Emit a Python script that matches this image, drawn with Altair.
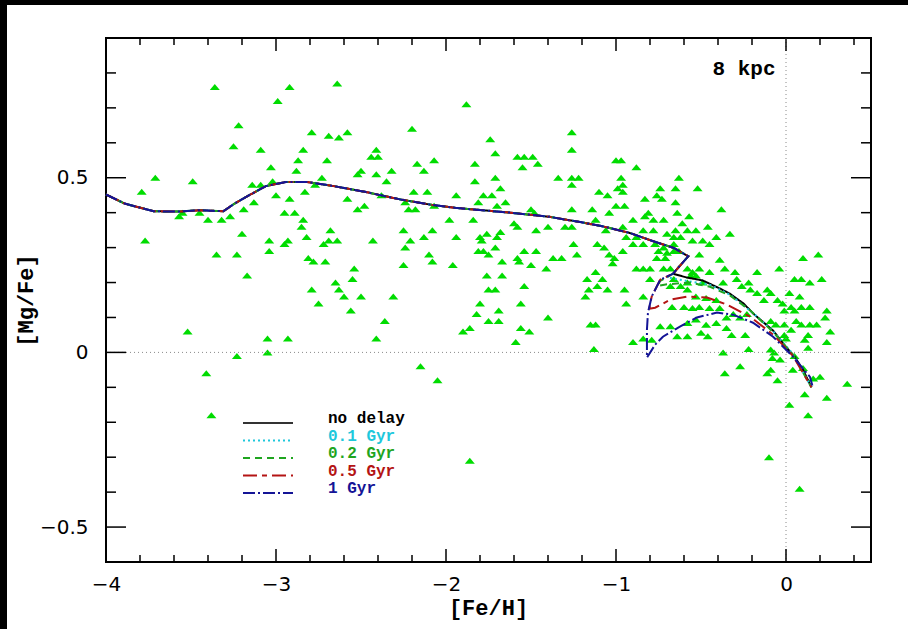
import altair as alt
import pandas as pd

# ---------------- observed stars ([Fe/H], [Mg/Fe]) ----------------
feh = [
    -3.36, -2.92, -2.64, -2.99, -3.22, -2.20, -2.79, -2.69, -2.63, -2.58, -3.25, -3.09, -2.84, -2.41, -2.44, -2.40,
    -2.87, -2.70, -2.07, -2.17, -3.03, -2.88, -2.50, -2.32, -2.13, -2.52, -2.41, -3.71, -3.49, -2.73, -2.35, -3.02,
    -3.14, -3.09, -2.77, -3.79, -2.83, -2.19, -2.11, -1.94, -3.00, -2.92, -2.58, -2.38, -3.13, -2.24, -2.52, -2.48,
    -2.22, -2.18, -2.07, -3.19, -3.57, -3.55, -3.45, -3.40, -3.32, -3.27, -2.95, -2.89, -2.84, -1.98, -2.85, -2.68,
    -2.25, -2.08, -3.20, -3.77, -3.04, -2.93, -2.95, -2.82, -2.69, -2.64, -2.72, -2.43, -2.21, -2.13, -2.24, -1.94,
    -3.04, -3.35, -3.23, -2.81, -2.78, -2.71, -2.10, -2.08, -2.25, -1.96, -2.54, -3.17, -2.55, -2.65, -2.63, -2.79,
    -2.60, -2.50, -2.31, -2.75, -2.56, -2.36, -3.52, -3.05, -2.93, -2.41, -3.23, -3.05, -3.41, -2.15, -2.05, -3.38,
    -1.88,
    -1.26, -1.74, -1.26, -1.71, -1.58, -1.54, -1.49, -1.55, -1.46, -1.83, -1.00, -1.83, -1.71, -1.34, -1.26, -1.22,
    -1.26, -0.99, -1.68, -1.78, -1.73, -1.10, -1.05, -1.65, -1.81, -1.70, -1.50, -1.48, -1.26, -1.14, -1.00, -1.04,
    -1.84, -1.60, -1.58, -1.40, -1.47, -1.30, -1.26, -1.12, -1.06, -1.80, -1.76, -1.70, -1.68, -1.79, -1.25, -1.11,
    -1.07, -1.81, -1.78, -1.71, -1.75, -1.54, -1.47, -1.37, -1.32, -1.23, -1.04, -1.01, -1.02, -1.67, -1.58, -1.57,
    -1.50, -1.41, -1.12, -1.76, -1.67, -1.17, -1.08, -1.75, -1.71, -1.54, -1.16, -1.11, -1.05, -1.18, -1.80, -1.56,
    -1.82, -1.69, -1.75, -1.69, -1.40, -1.15, -1.12, -1.56,
    -0.97, -0.97, -0.96, -0.96, -0.95, -0.96, -0.94, -0.96, -0.95, -0.94,
    -1.86, -1.90, -1.51, -1.59, -1.13, -1.86,
    -0.88, -0.63, -0.74, -0.65, -0.52, -0.83, -0.76, -0.73, -0.65, -0.81, -0.64, -0.57, -0.90, -0.83, -0.78, -0.72,
    -0.61, -0.84, -0.78, -0.70, -0.65, -0.58, -0.53, -0.46, -0.88, -0.66, -0.62, -0.55, -0.49, -0.41, -0.38, -0.33,
    -0.90, -0.84, -0.77, -0.72, -0.66, -0.45, -0.75, -0.70, -0.66, -0.63, -0.51, -0.39, -0.76, -0.71, -0.88, -0.84,
    -0.80, -0.72, -0.68, -0.58, -0.55, -0.51, -0.56, -0.45, -0.80, -0.66, -0.53, -0.58, -0.49, -0.68, -0.62, -0.58,
    -0.84, -0.53, -0.47, -0.41, -0.67, -0.60, -0.55, -0.51, -0.45, -0.39, -0.74, -0.68, -0.58, -0.53, -0.47, -0.41,
    -0.90, -0.84, -0.79, -0.64, -0.58, -0.50, -0.46,
    0.10, 0.19, -0.04, -0.17, -0.30, -0.36, 0.05, 0.09, 0.14, 0.21, -0.29, -0.37, -0.26, -0.22, -0.21, -0.11,
    -0.09, -0.17, 0.02, 0.08, -0.05, -0.02, -0.13, 0.03, -0.01, 0.05, 0.09, 0.14, 0.24, -0.35, -0.31, -0.27,
    -0.23, 0.23, -0.09, -0.06, -0.01, 0.06, 0.09, 0.14, 0.18, -0.35, -0.32, -0.24, 0.03, -0.01, 0.13, 0.26,
    0.00, 0.11, 0.24, 0.13, -0.22, -0.09, -0.07, -0.37, -0.08, -0.035, 0.05, -0.27, -0.36, -0.11, -0.09, -0.05,
    0.04, 0.10, 0.20, 0.16, 0.36, 0.11, 0.24, 0.02, 0.13, -0.10, 0.08,
]
mgfe = [
    0.76, 0.76, 0.77, 0.72, 0.65, 0.64, 0.63, 0.62, 0.615, 0.63, 0.59, 0.58, 0.58, 0.58, 0.56, 0.56,
    0.55, 0.55, 0.55, 0.54, 0.53, 0.52, 0.52, 0.52, 0.52, 0.51, 0.51, 0.50, 0.49, 0.50, 0.49, 0.49,
    0.48, 0.48, 0.48, 0.46, 0.46, 0.46, 0.46, 0.45, 0.45, 0.44, 0.44, 0.45, 0.43, 0.43, 0.41, 0.42,
    0.41, 0.41, 0.42, 0.41, 0.39, 0.40, 0.40, 0.38, 0.38, 0.39, 0.40, 0.40, 0.38, 0.38, 0.36, 0.35,
    0.35, 0.35, 0.34, 0.32, 0.32, 0.32, 0.31, 0.33, 0.32, 0.32, 0.31, 0.32, 0.32, 0.33, 0.30, 0.33,
    0.29, 0.28, 0.28, 0.27, 0.26, 0.26, 0.28, 0.26, 0.25, 0.25, 0.24, 0.22, 0.21, 0.20, 0.18, 0.18,
    0.16, 0.16, 0.16, 0.14, 0.12, 0.09, 0.06, 0.04, 0.04, 0.04, -0.01, 0.00, -0.06, -0.04, -0.08, -0.18,
    0.71,
    0.63, 0.61, 0.58, 0.57, 0.56, 0.56, 0.56, 0.53, 0.54, 0.54, 0.55, 0.49, 0.50, 0.50, 0.50, 0.50,
    0.48, 0.47, 0.47, 0.45, 0.45, 0.46, 0.45, 0.43, 0.43, 0.42, 0.41, 0.40, 0.41, 0.41, 0.42, 0.40,
    0.38, 0.37, 0.36, 0.36, 0.35, 0.36, 0.36, 0.38, 0.35, 0.33, 0.34, 0.33, 0.345, 0.32, 0.31, 0.31,
    0.30, 0.29, 0.29, 0.30, 0.28, 0.29, 0.29, 0.27, 0.27, 0.28, 0.28, 0.27, 0.255, 0.26, 0.27, 0.26,
    0.25, 0.24, 0.23, 0.22, 0.22, 0.21, 0.21, 0.18, 0.18, 0.19, 0.18, 0.19, 0.18, 0.16, 0.14, 0.14,
    0.11, 0.12, 0.09, 0.09, 0.10, 0.08, 0.08, 0.07,
    0.55, 0.50, 0.48, 0.46, 0.42, 0.36, 0.33, 0.29, 0.18, 0.14,
    0.07, 0.06, 0.06, 0.03, 0.01, -0.31,
    0.53, 0.50, 0.47, 0.47, 0.47, 0.44, 0.45, 0.44, 0.43, 0.40, 0.40, 0.39, 0.38, 0.39, 0.38, 0.38,
    0.37, 0.35, 0.35, 0.34, 0.35, 0.35, 0.35, 0.36, 0.33, 0.33, 0.33, 0.32, 0.32, 0.33, 0.41, 0.34,
    0.31, 0.31, 0.31, 0.30, 0.31, 0.31, 0.29, 0.285, 0.29, 0.29, 0.28, 0.265, 0.27, 0.27, 0.24, 0.24,
    0.24, 0.24, 0.24, 0.24, 0.23, 0.24, 0.22, 0.23, 0.21, 0.21, 0.22, 0.20, 0.20, 0.19, 0.19, 0.18,
    0.16, 0.16, 0.156, 0.15, 0.13, 0.13, 0.127, 0.13, 0.127, 0.127, 0.075, 0.075, 0.084, 0.094, 0.079, 0.084,
    0.03, 0.04, 0.036, 0.046, 0.046, 0.056, 0.046,
    0.27, 0.28, 0.24, 0.23, 0.23, 0.24, 0.21, 0.21, 0.20, 0.21, 0.21, 0.20, 0.19, 0.20, 0.18, 0.18,
    0.17, 0.17, 0.17, 0.16, 0.15, 0.14, 0.15, 0.13, 0.12, 0.12, 0.13, 0.13, 0.12, 0.10, 0.11, 0.10,
    0.11, 0.10, 0.09, 0.08, 0.08, 0.09, 0.08, 0.08, 0.08, 0.07, 0.05, 0.05, 0.065, 0.05, 0.05, 0.06,
    0.04, 0.036, 0.03, 0.013, 0.01, 0.008, 0.0, 0.0, -0.016, -0.02, -0.01, -0.04, -0.06, -0.06, -0.05, -0.08,
    -0.05, -0.045, -0.07, -0.075, -0.09, -0.12, -0.13, -0.15, -0.18, -0.30, -0.39,
]

# ---------------- model tracks ----------------
common_feh = [-4.0, -3.89, -3.72, -3.57, -3.45, -3.31, -3.25, -3.15, -3.06, -2.94, -2.82, -2.66, -2.47,
              -2.27, -2.08, -1.95, -1.62, -1.39, -1.21, -1.08, -0.92, -0.78, -0.66, -0.575, -0.665]
common_mgfe = [0.452, 0.426, 0.404, 0.403, 0.407, 0.404, 0.424, 0.452, 0.476, 0.488, 0.488, 0.476, 0.459,
               0.438, 0.422, 0.414, 0.400, 0.388, 0.373, 0.361, 0.342, 0.318, 0.299, 0.275, 0.225]

tail_feh = {
    "no delay": [-0.58, -0.49, -0.39, -0.33, -0.25, -0.19, -0.075, 0.0, 0.05, 0.10, 0.15],
    "0.1 Gyr": [-0.70, -0.60, -0.45, -0.33, -0.20, -0.075, 0.04, 0.15],
    "0.2 Gyr": [-0.74, -0.755, -0.70, -0.565, -0.447, -0.33, -0.21, -0.075, 0.04, 0.15],
    "0.5 Gyr": [-0.74, -0.79, -0.805, -0.77, -0.68, -0.58, -0.465, -0.347, -0.21, -0.076, 0.041, 0.15],
    "1 Gyr": [-0.74, -0.79, -0.812, -0.818, -0.818, -0.77, -0.724, -0.624, -0.524, -0.406, -0.312,
              -0.194, -0.076, 0.041, 0.141, 0.155],
}
tail_mgfe = {
    "no delay": [0.214, 0.206, 0.183, 0.168, 0.140, 0.110, 0.062, 0.015, -0.012, -0.050, -0.100],
    "0.1 Gyr": [0.215, 0.206, 0.194, 0.165, 0.115, 0.060, -0.004, -0.100],
    "0.2 Gyr": [0.205, 0.190, 0.195, 0.200, 0.188, 0.163, 0.120, 0.058, -0.006, -0.100],
    "0.5 Gyr": [0.208, 0.160, 0.125, 0.128, 0.151, 0.160, 0.157, 0.137, 0.102, 0.051, -0.010, -0.100],
    "1 Gyr": [0.208, 0.160, 0.114, 0.065, -0.015, 0.022, 0.045, 0.074, 0.100, 0.114, 0.108,
              0.085, 0.045, -0.012, -0.070, -0.095],
}

series_names = ["no delay", "0.1 Gyr", "0.2 Gyr", "0.5 Gyr", "1 Gyr"]
series_colors = ["#000000", "#1ec8dc", "#1fa51f", "#b41414", "#141496"]
series_dash = [[1, 0], [2, 3], [7, 5], [14, 5, 5, 5], [12, 3, 2, 3]]

x_major = [-4, -3, -2, -1, 0]
x_minor = [-3.8, -3.6, -3.4, -3.2, -2.8, -2.6, -2.4, -2.2, -1.8, -1.6, -1.4, -1.2,
           -0.8, -0.6, -0.4, -0.2, 0.2, 0.4]
y_major = [-0.5, 0, 0.5]
y_minor = [-0.4, -0.3, -0.2, -0.1, 0.1, 0.2, 0.3, 0.4, 0.6, 0.7, 0.8]

W, H = 765, 524
xs = alt.Scale(domain=[-4, 0.5], nice=False, zero=False)
ys = alt.Scale(domain=[-0.6, 0.9], nice=False, zero=False)
one = pd.DataFrame({"k": [0]})

ax_x = alt.Axis(
    values=x_major, format="d", ticks=False, domain=False, grid=False, labelFlush=False,
    labelFont="DejaVu Sans", labelFontSize=20, labelColor="black", labelPadding=12,
    title="[Fe/H]", titleFont="Liberation Mono", titleFontWeight="bold", titleFontSize=22,
    titleColor="black", titleX=382, titleY=52, titleAlign="center", titleBaseline="alphabetic")
ax_y = alt.Axis(
    values=y_major, format=".1~f", ticks=False, domain=False, grid=False, labelFlush=False,
    labelFont="DejaVu Sans", labelFontSize=20, labelColor="black", labelPadding=18,
    title="[Mg/Fe]", titleFont="Liberation Mono", titleFontWeight="bold", titleFontSize=22,
    titleColor="black", titleX=-81, titleY=262, titleAngle=270, titleAlign="center",
    titleBaseline="middle")


def X(field):
    return alt.X(field, scale=xs, axis=ax_x)


def Y(field):
    return alt.Y(field, scale=ys, axis=ax_y)


layers = []

# stars
stars = pd.DataFrame({"feh": feh, "mgfe": mgfe})
layers.append(alt.Chart(stars).mark_point(
    shape="M-1,0.6L1,0.6L0,-0.6Z", filled=True, size=100, color="#00dc00", opacity=1, strokeWidth=0
).encode(x=X("feh:Q"), y=Y("mgfe:Q")))

# dotted reference lines
layers.append(alt.Chart(pd.DataFrame({"feh": [0.0]})).mark_rule(
    color="#8a8a8a", strokeDash=[1, 3], strokeWidth=1).encode(x=X("feh:Q")))
layers.append(alt.Chart(pd.DataFrame({"mgfe": [0.0]})).mark_rule(
    color="#8a8a8a", strokeDash=[1, 3], strokeWidth=1).encode(y=Y("mgfe:Q")))

# model tracks
for name, col, dash in zip(series_names, series_colors, series_dash):
    fx = common_feh + tail_feh[name]
    fy = common_mgfe + tail_mgfe[name]
    df = pd.DataFrame({"feh": fx, "mgfe": fy, "i": list(range(len(fx)))})
    layers.append(alt.Chart(df).mark_line(color=col, strokeDash=dash, strokeWidth=2).encode(
        x=X("feh:Q"), y=Y("mgfe:Q"), order=alt.Order("i:Q")))


# inward ticks on all four sides
def x_ticks(vals, L):
    d = pd.DataFrame({"feh": vals})
    b = alt.Chart(d).mark_rule(color="black", strokeWidth=1.5).encode(
        x=X("feh:Q"), y=alt.value(H), y2=alt.value(H - L))
    t = alt.Chart(d).mark_rule(color="black", strokeWidth=1.5).encode(
        x=X("feh:Q"), y=alt.value(0), y2=alt.value(L))
    return [b, t]


def y_ticks(vals, L):
    d = pd.DataFrame({"mgfe": vals})
    l = alt.Chart(d).mark_rule(color="black", strokeWidth=1.5).encode(
        y=Y("mgfe:Q"), x=alt.value(0), x2=alt.value(L))
    r = alt.Chart(d).mark_rule(color="black", strokeWidth=1.5).encode(
        y=Y("mgfe:Q"), x=alt.value(W), x2=alt.value(W - L))
    return [l, r]


layers += x_ticks(x_major, 13) + x_ticks(x_minor, 7) + y_ticks(y_major, 20) + y_ticks(y_minor, 10)

# in-plot legend
for i, (name, col, dash) in enumerate(zip(series_names, series_colors, series_dash)):
    yy = 385 + 17.5 * i
    layers.append(alt.Chart(one).mark_rule(color=col if i else "#333333", strokeDash=dash, strokeWidth=2).encode(
        x=alt.value(137), x2=alt.value(187), y=alt.value(yy)))
    layers.append(alt.Chart(one).mark_text(
        align="left", baseline="alphabetic", font="Liberation Mono", fontWeight="bold", fontSize=16,
        color=col).encode(x=alt.value(222), y=alt.value(yy), text=alt.value(name)))

# panel label
layers.append(alt.Chart(one).mark_text(
    align="center", baseline="alphabetic", font="Liberation Mono", fontWeight="bold", fontSize=21,
    color="black").encode(x=alt.value(638), y=alt.value(37), text=alt.value("8 kpc")))

# black strips at the picture's top and left edges
layers.append(alt.Chart(one).mark_rect(color="black").encode(
    x=alt.value(-106), x2=alt.value(-99), y=alt.value(-38), y2=alt.value(591)))
layers.append(alt.Chart(one).mark_rect(color="black").encode(
    x=alt.value(-106), x2=alt.value(802), y=alt.value(-38), y2=alt.value(-33)))

chart = alt.layer(*layers).properties(
    width=W, height=H, background="white",
    padding={"left": 106, "top": 38, "right": 37, "bottom": 67},
    autosize=alt.AutoSizeParams(type="none"),
).configure_view(stroke="black", strokeWidth=2, fill="white")

chart.save("out.html", embed_options={"renderer": "svg", "actions": False})
